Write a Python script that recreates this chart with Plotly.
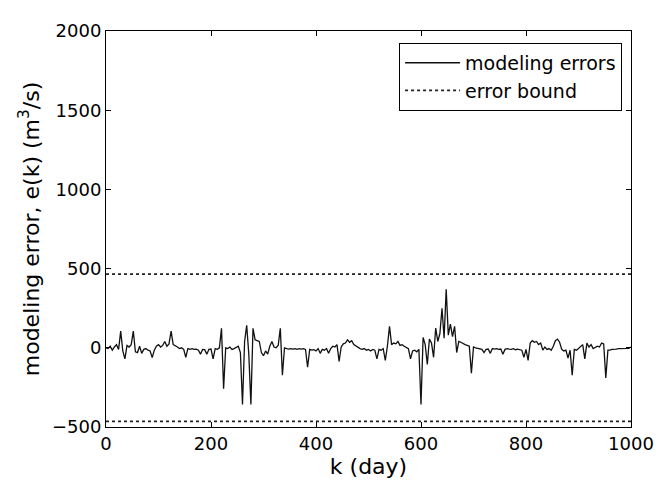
import plotly.graph_objects as go

days = [
    0, 4, 8, 12, 16, 20, 24, 28, 32, 36, 40,
    44, 48, 52, 56, 60, 64, 68, 72, 76, 80, 84, 88, 92, 96, 100,
    104, 108, 112, 116, 120, 124, 128, 132, 136, 140, 144, 148, 152, 156, 160,
    164, 168, 172, 176, 180, 184, 188, 192, 196, 200, 204, 208, 212, 216,
    220, 224, 228, 232, 236, 240, 244, 248, 252, 256, 260, 264, 268, 272,
    276, 280, 284, 288, 292, 296, 300, 304, 308, 312, 316, 320, 324, 328,
    332, 336, 340, 344,
    348, 352, 356, 360, 364, 368, 372, 376, 380, 384, 388, 392, 396, 400,
    404, 408, 412, 416, 420, 424, 428, 432, 436, 440, 444, 448, 452, 456,
    460, 464, 468, 472, 476, 480, 484, 488, 492, 496, 500, 504, 508, 512,
    516, 520, 524, 528, 532, 536, 540, 544, 548, 552, 556, 560, 564, 568,
    572, 576, 580, 584, 588, 592, 596, 600, 604, 608, 612, 616, 620, 624,
    628, 632, 636, 640, 644, 648, 652, 656, 660, 664, 668, 672, 676, 680,
    684, 688, 692, 696, 700, 704, 708, 712, 716, 720, 724, 728, 732, 736,
    740, 744, 748, 752, 756, 760, 764, 768, 772, 776, 780, 784, 788, 792,
    796, 800, 804, 808, 812, 816, 820, 824, 828, 832, 836, 840, 844, 848,
    852, 856, 860, 864, 868, 872, 876, 880, 884, 888, 892, 896, 900, 904,
    908, 912, 916, 920, 924, 928, 932, 936, 940, 944, 948, 952, 956, 960,
    964, 968, 972, 976, 980, 984, 988, 992, 996, 1000,
]
err = [
    0, -5, 10, -15, 5, 20, -10, 105, -20, -70, 15,
    5, 20, 105, -25, -30, 10, -35, -10, -5, -15, -20, -62, -15, 10, 20,
    5, 15, 40, 10, 25, 105, 20, 15, 5, -5, 0, -10, -60, -5, -10,
    -5, -10, -8, -15, -40, -10, -12, -40, -10, -8, -70, -5, -10, 0,
    123, -258, 0, -5, 5, -10, -5, 0, 10, -30, -358, 40, 142, -40,
    -358, 123, 50, 45, 40, -30, -50, -20, -40, 10, 40, 5, 0, 15,
    123, -173, 0, -5,
    -8, -5, -8, -5, -10, -5, -8, -5, -10, -123, -10, -15, -12, -20,
    -5, -35, -10, -15, -5, -35, -5, 10, 5, 20, -86, 5, 25, 30,
    50, 35, 45, 20, 10, 5, -5, -10, -5, -15, -10, -20, -10, -15,
    -70, -10, -15, -5, -80, 10, 135, 20, 30, 25, 40, 15, 20, 10,
    5, -5, -70, -20, -15, -25, -10, -358, 65, 20, -105, 55, 30, -60,
    125, 40, 90, 250, 60, 370, 80, 150, 70, 135, -30, 40, 35, 25,
    20, 15, 10, -160, 5, 0, -5, -8, -10, -30, -10, -8, -35, -5,
    -8, -5, -10, -8, -40, -10, -5, -8, -10, -5, -12, -8, -10, -15,
    -60, -10, -80, 30, 45, 35, 40, 20, 30, -15, 5, -10, -5, -15,
    10, 45, 55, 35, -10, -20, -15, -65, -15, -173, -10, -15, -5, 10,
    20, -70, 30, 5, 20, -5, 0, 10, 5, 30, 25, -190, -15, -15,
    -10, -10, -8, -5, -5, -3, -5, -3, -3, 5,
]

bound_days = [0, 1000]
bound_hi = [465, 465]
bound_lo = [-465, -465]

fig = go.Figure()
fig.add_trace(go.Scatter(x=days, y=err, mode="lines", name="modeling errors",
                         line=dict(color="#111111", width=1.3)))
fig.add_trace(go.Scatter(x=bound_days, y=bound_hi, mode="lines", name="error bound",
                         line=dict(color="#222222", width=1.7, dash="dot")))
fig.add_trace(go.Scatter(x=bound_days, y=bound_lo, mode="lines", name="error bound",
                         showlegend=False,
                         line=dict(color="#222222", width=1.7, dash="dot")))

FONT = "DejaVu Sans"
axis_style = dict(showline=True, linecolor="black", linewidth=1, mirror="ticks",
                  ticks="inside", ticklen=5, tickcolor="black",
                  showgrid=False, zeroline=False,
                  tickfont=dict(family=FONT, size=18, color="black"))

fig.update_layout(
    width=663, height=483,
    margin=dict(l=98, r=40, t=18, b=64),
    paper_bgcolor="white", plot_bgcolor="white",
    font=dict(family=FONT, size=18, color="black"),
    xaxis=dict(range=[0, 1000], dtick=200,
               title=dict(text="k (day)", standoff=0), **axis_style),
    yaxis=dict(range=[-500, 2000], dtick=500,
               title=dict(text="modeling error, e(k) (m<sup>3</sup>/s)", standoff=6),
               **axis_style),
    legend=dict(x=0.983, y=0.97, xanchor="right", yanchor="top",
                bgcolor="white", bordercolor="black", borderwidth=1,
                font=dict(size=19), tracegroupgap=0, itemwidth=55),
    showlegend=True,
)

fig.write_html("out.html")
